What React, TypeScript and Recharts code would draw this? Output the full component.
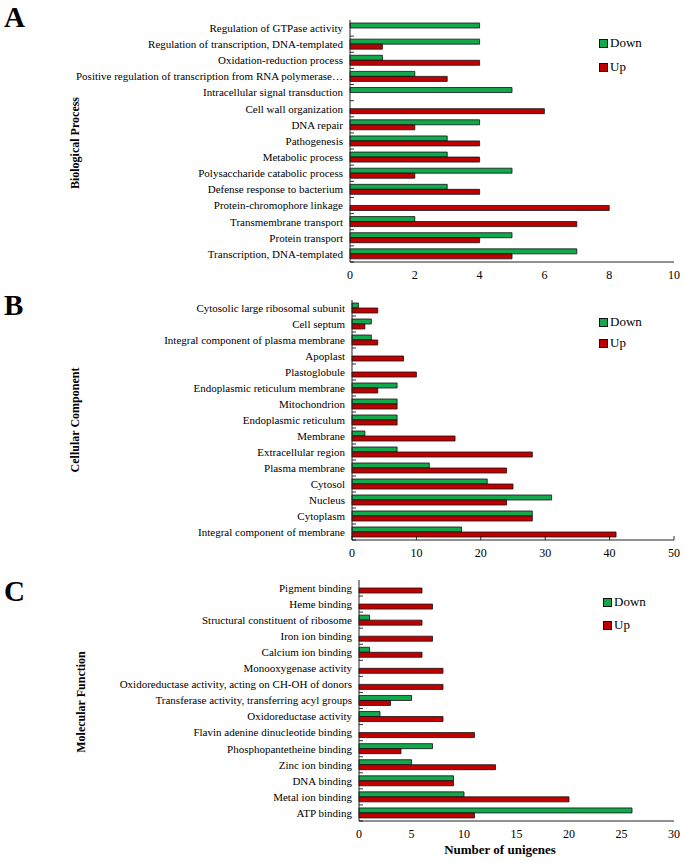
import React from 'react';
import { BarChart, Bar, XAxis, YAxis } from 'recharts';

const bpCategories = [
  'Regulation of GTPase activity',
  'Regulation of transcription, DNA-templated',
  'Oxidation-reduction process',
  'Positive regulation of transcription from RNA polymerase…',
  'Intracellular signal transduction',
  'Cell wall organization',
  'DNA repair',
  'Pathogenesis',
  'Metabolic process',
  'Polysaccharide catabolic process',
  'Defense response to bacterium',
  'Protein-chromophore linkage',
  'Transmembrane transport',
  'Protein transport',
  'Transcription, DNA-templated',
];
const bpDown = [4, 4, 1, 2, 5, 0, 4, 3, 3, 5, 3, 0, 2, 5, 7];
const bpUp = [0, 1, 4, 3, 0, 6, 2, 4, 4, 2, 4, 8, 7, 4, 5];
const bpTicks = [0, 2, 4, 6, 8, 10];

const ccCategories = [
  'Cytosolic large ribosomal subunit',
  'Cell septum',
  'Integral component of plasma membrane',
  'Apoplast',
  'Plastoglobule',
  'Endoplasmic reticulum membrane',
  'Mitochondrion',
  'Endoplasmic reticulum',
  'Membrane',
  'Extracellular region',
  'Plasma membrane',
  'Cytosol',
  'Nucleus',
  'Cytoplasm',
  'Integral component of membrane',
];
const ccDown = [1, 3, 3, 0, 0, 7, 7, 7, 2, 7, 12, 21, 31, 28, 17];
const ccUp = [4, 2, 4, 8, 10, 4, 7, 7, 16, 28, 24, 25, 24, 28, 41];
const ccTicks = [0, 10, 20, 30, 40, 50];

const mfCategories = [
  'Pigment binding',
  'Heme binding',
  'Structural constituent of ribosome',
  'Iron ion binding',
  'Calcium ion binding',
  'Monooxygenase activity',
  'Oxidoreductase activity, acting on CH-OH of donors',
  'Transferase activity, transferring acyl groups',
  'Oxidoreductase activity',
  'Flavin adenine dinucleotide binding',
  'Phosphopantetheine binding',
  'Zinc ion binding',
  'DNA binding',
  'Metal ion binding',
  'ATP binding',
];
const mfDown = [0, 0, 1, 0, 1, 0, 0, 5, 2, 0, 7, 5, 9, 10, 26];
const mfUp = [6, 7, 6, 7, 6, 8, 8, 3, 8, 11, 4, 13, 9, 20, 11];
const mfTicks = [0, 5, 10, 15, 20, 25, 30];

const GREEN = '#12a84c';
const RED = '#c00000';
const FONT = '"Liberation Serif", "Times New Roman", serif';

const build = (cats: string[], down: number[], up: number[]) =>
  cats.map((name, i) => ({ name, down: down[i], up: up[i] }));

const CatTick = (props: any) => {
  const { x, y, payload } = props;
  const off = payload && typeof payload.offset === 'number' ? payload.offset : 0;
  return (
    <g>
      <text x={x} y={y} dy="0.35em" textAnchor="end" fontSize={11} fontFamily={FONT} fill="#000">
        {payload.value}
      </text>
      {off ? (
        <line x1={x + 7} x2={x + 11} y1={y + off} y2={y + off} stroke="#000" strokeWidth={0.8} />
      ) : null}
    </g>
  );
};

const makeXTick = (inward: boolean) => (props: any) => {
  const { x, y, payload } = props;
  return (
    <g>
      <text x={x} y={y} dy="0.71em" textAnchor="middle" fontSize={12} fontFamily={FONT} fill="#000">
        {payload.value}
      </text>
      {inward ? <line x1={x} x2={x} y1={y - 8} y2={y - 12} stroke="#000" strokeWidth={0.8} /> : null}
    </g>
  );
};

type PanelProps = {
  top: number;
  height: number;
  plotLeft: number;
  data: { name: string; down: number; up: number }[];
  ticks: number[];
  inwardX: boolean;
};

const Panel = ({ top, height, plotLeft, data, ticks, inwardX }: PanelProps) => {
  const max = ticks[ticks.length - 1];
  return (
    <div style={{ position: 'absolute', left: 0, top }}>
      <BarChart
        width={685}
        height={height}
        data={data}
        layout="vertical"
        margin={{ top: 20, right: 11, bottom: 8, left: 0 }}
        barSize={5}
        barGap={0}
      >
        <XAxis
          type="number"
          domain={[0, max]}
          ticks={ticks}
          interval={0}
          height={20}
          tickSize={6}
          tickMargin={2}
          tickLine={false}
          axisLine={{ stroke: '#222', strokeWidth: 1 }}
          tick={makeXTick(inwardX)}
        />
        <XAxis
          xAxisId="top"
          orientation="top"
          type="number"
          domain={[0, max]}
          height={0}
          tick={false}
          tickLine={false}
          axisLine={{ stroke: '#222', strokeWidth: 1 }}
        />
        <YAxis
          type="category"
          dataKey="name"
          width={plotLeft}
          interval={0}
          tickSize={5}
          tickMargin={2}
          tickLine={false}
          axisLine={{ stroke: '#222', strokeWidth: 1 }}
          tick={<CatTick />}
        />
        <YAxis
          yAxisId="right"
          orientation="right"
          type="category"
          dataKey="name"
          width={0}
          tick={false}
          tickLine={false}
          axisLine={{ stroke: '#222', strokeWidth: 1 }}
        />
        <Bar dataKey="down" name="Down" fill={GREEN} stroke="#111" strokeWidth={0.8} isAnimationActive={false} />
        <Bar dataKey="up" name="Up" fill={RED} stroke="#111" strokeWidth={0.8} isAnimationActive={false} />
      </BarChart>
    </div>
  );
};

const LegendBox = ({ left, top, gap }: { left: number; top: number; gap: number }) => {
  const items = [
    { label: 'Down', color: GREEN },
    { label: 'Up', color: RED },
  ];
  return (
    <div style={{ position: 'absolute', left, top }}>
      {items.map((it, i) => (
        <div
          key={it.label}
          style={{
            position: 'absolute',
            left: 0,
            top: i * gap,
            display: 'flex',
            alignItems: 'center',
            height: 16,
            whiteSpace: 'nowrap',
          }}
        >
          <span
            style={{
              display: 'inline-block',
              width: 7,
              height: 7,
              background: it.color,
              border: '1px solid #111',
              marginRight: 2,
            }}
          />
          <span style={{ fontFamily: FONT, fontSize: 13, color: '#000' }}>{it.label}</span>
        </div>
      ))}
    </div>
  );
};

const Letter = ({ text, top }: { text: string; top: number }) => (
  <div
    style={{
      position: 'absolute',
      left: 4,
      top,
      fontFamily: FONT,
      fontWeight: 'bold',
      fontSize: 29,
      lineHeight: 1.1,
    }}
  >
    {text}
  </div>
);

const VTitle = ({ text, cx, cy }: { text: string; cx: number; cy: number }) => (
  <div
    style={{
      position: 'absolute',
      left: cx,
      top: cy,
      transform: 'translate(-50%, -50%) rotate(-90deg)',
      fontFamily: FONT,
      fontWeight: 'bold',
      fontSize: 12,
      whiteSpace: 'nowrap',
      lineHeight: 1,
    }}
  >
    {text}
  </div>
);

export default function App() {
  return (
    <div style={{ position: 'absolute', left: 0, top: 0, width: 685, height: 863, background: '#fff' }}>
      <Panel top={0} height={290} plotLeft={350} data={build(bpCategories, bpDown, bpUp)} ticks={bpTicks} inwardX={false} />
      <Panel top={280} height={288} plotLeft={352} data={build(ccCategories, ccDown, ccUp)} ticks={ccTicks} inwardX={true} />
      <Panel top={560} height={289} plotLeft={359} data={build(mfCategories, mfDown, mfUp)} ticks={mfTicks} inwardX={false} />

      <Letter text="A" top={2} />
      <Letter text="B" top={290} />
      <Letter text="C" top={576} />

      <VTitle text="Biological Process" cx={75} cy={143} />
      <VTitle text="Cellular Component" cx={75} cy={420} />
      <VTitle text="Molecular Function" cx={81} cy={702} />

      <LegendBox left={599} top={35} gap={24} />
      <LegendBox left={599} top={314} gap={21} />
      <LegendBox left={603} top={594} gap={23} />

      <div
        style={{
          position: 'absolute',
          left: 500,
          top: 850,
          transform: 'translate(-50%, -50%)',
          fontFamily: FONT,
          fontWeight: 'bold',
          fontSize: 13,
          whiteSpace: 'nowrap',
        }}
      >
        Number of unigenes
      </div>
    </div>
  );
}
